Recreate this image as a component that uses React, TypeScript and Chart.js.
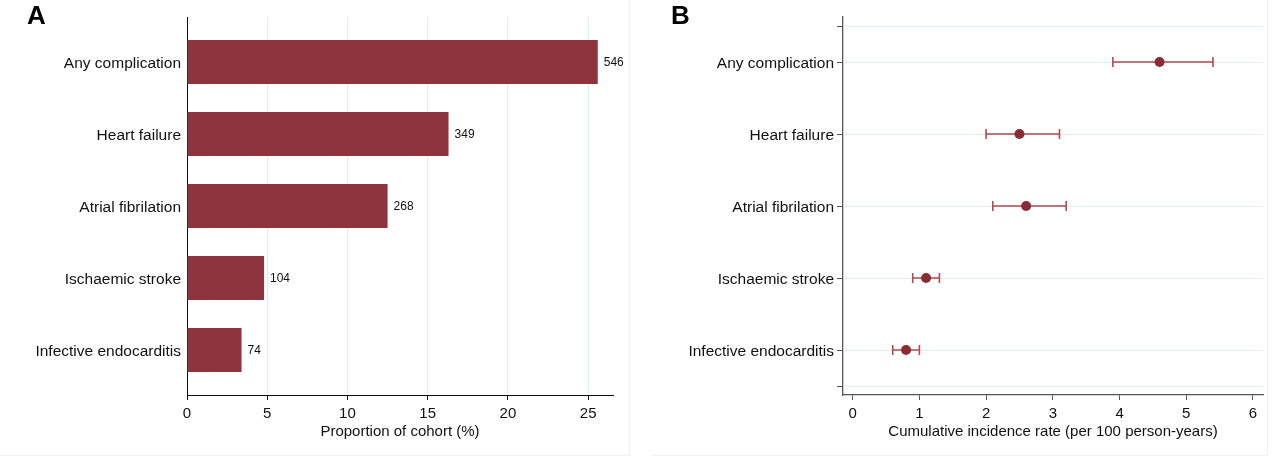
import React, { useEffect, useRef } from "react";
import { Chart, registerables } from "chart.js";

Chart.register(...registerables);

// ---- Data ----
const categories = [
  "Any complication",
  "Heart failure",
  "Atrial fibrilation",
  "Ischaemic stroke",
  "Infective endocarditis",
];
const categoryPositions = [1, 2, 3, 4, 5];
const proportionPct = [25.6, 16.3, 12.5, 4.8, 3.4];
const counts = [546, 349, 268, 104, 74];
const proportionTicks = [0, 5, 10, 15, 20, 25];

const rate = [4.6, 2.5, 2.6, 1.1, 0.8];
const rateLower = [3.9, 2.0, 2.1, 0.9, 0.6];
const rateUpper = [5.4, 3.1, 3.2, 1.3, 1.0];
const rateTicks = [0, 1, 2, 3, 4, 5, 6];
const rateYTicks = [0.5, 1, 2, 3, 4, 5, 5.5];

const FONT = '"Liberation Sans", Arial, Helvetica, sans-serif';
const BAR_COLOR = "#8e343c";
const POINT_COLOR = "#8b2c35";
const CI_COLOR = "#b04a53";
const GRID_COLOR = "#e4eef0";

const barLabelPlugin = {
  id: "barLabels",
  afterDatasetsDraw(chart: any) {
    const { ctx } = chart;
    const meta = chart.getDatasetMeta(0);
    ctx.save();
    ctx.fillStyle = "#111";
    ctx.font = `12px ${FONT}`;
    ctx.textAlign = "left";
    ctx.textBaseline = "middle";
    meta.data.forEach((bar: any, i: number) => {
      ctx.fillText(String(counts[i]), bar.x + 6, bar.y + 1);
    });
    ctx.restore();
  },
};

const errorBarPlugin = {
  id: "errorBars",
  beforeDatasetsDraw(chart: any) {
    const { ctx } = chart;
    const x = chart.scales.x;
    const y = chart.scales.y;
    ctx.save();
    ctx.strokeStyle = CI_COLOR;
    ctx.lineWidth = 1.6;
    categoryPositions.forEach((p, i) => {
      const py = y.getPixelForValue(p);
      const x1 = x.getPixelForValue(rateLower[i]);
      const x2 = x.getPixelForValue(rateUpper[i]);
      ctx.beginPath();
      ctx.moveTo(x1, py);
      ctx.lineTo(x2, py);
      ctx.moveTo(x1, py - 5);
      ctx.lineTo(x1, py + 5);
      ctx.moveTo(x2, py - 5);
      ctx.lineTo(x2, py + 5);
      ctx.stroke();
    });
    ctx.restore();
  },
};

function PanelA() {
  const ref = useRef<HTMLCanvasElement | null>(null);
  useEffect(() => {
    if (!ref.current) return;
    const chart = new Chart(ref.current, {
      type: "bar",
      data: {
        datasets: [
          {
            data: categoryPositions.map((p, i) => ({ x: proportionPct[i], y: p })),
            backgroundColor: BAR_COLOR,
            borderWidth: 0,
            barPercentage: 0.61,
            categoryPercentage: 1,
          } as any,
        ],
      },
      options: {
        indexAxis: "y",
        animation: false,
        responsive: false,
        events: [],
        layout: { padding: { top: 17, right: 27, left: 0, bottom: 0 } },
        plugins: { legend: { display: false }, tooltip: { enabled: false } },
        scales: {
          x: {
            type: "linear",
            position: "bottom",
            min: 0,
            max: 26.55,
            offset: false,
            afterBuildTicks: (s: any) => {
              s.ticks = proportionTicks.map((v) => ({ value: v }));
            },
            afterFit: (s: any) => {
              s.height = 63;
            },
            grid: {
              color: GRID_COLOR,
              drawTicks: true,
              tickLength: 5,
              tickColor: "#111",
            },
            border: { color: "#111", width: 1 },
            ticks: {
              color: "#111",
              font: { family: FONT, size: 15 },
              padding: 5,
              maxRotation: 0,
            },
            title: {
              display: true,
              text: "Proportion of cohort (%)",
              color: "#111",
              font: { family: FONT, size: 15 },
              padding: { top: 0, bottom: 17 },
            },
          },
          y: {
            type: "linear",
            min: 0.375,
            max: 5.625,
            reverse: true,
            offset: false,
            afterBuildTicks: (s: any) => {
              s.ticks = categoryPositions.map((v) => ({ value: v }));
            },
            afterFit: (s: any) => {
              s.width = 187;
            },
            grid: { display: false, drawTicks: false, tickLength: 0 },
            border: { display: true, color: "#111", width: 1 },
            ticks: {
              color: "#111",
              font: { family: FONT, size: 15.5 },
              padding: 6,
              labelOffset: 1.5,
              autoSkip: false,
              callback: (v: any) => categories[Number(v) - 1] ?? "",
            },
          },
        },
      } as any,
      plugins: [barLabelPlugin],
    });
    return () => chart.destroy();
  }, []);
  return <canvas ref={ref} width={640} height={458} style={{ width: 640, height: 458, display: "block" }} />;
}

function PanelB() {
  const ref = useRef<HTMLCanvasElement | null>(null);
  useEffect(() => {
    if (!ref.current) return;
    const chart = new Chart(ref.current, {
      type: "scatter",
      data: {
        datasets: [
          {
            data: categoryPositions.map((p, i) => ({ x: rate[i], y: p })),
            backgroundColor: POINT_COLOR,
            borderColor: POINT_COLOR,
            pointRadius: 5,
            pointBorderWidth: 0,
          },
        ],
      },
      options: {
        animation: false,
        responsive: false,
        events: [],
        layout: { padding: { top: 17, right: 17, left: 0, bottom: 0 } },
        plugins: { legend: { display: false }, tooltip: { enabled: false } },
        scales: {
          x: {
            type: "linear",
            position: "bottom",
            min: -0.145,
            max: 6.15,
            afterBuildTicks: (s: any) => {
              s.ticks = rateTicks.map((v) => ({ value: v }));
            },
            afterFit: (s: any) => {
              s.height = 63;
            },
            grid: {
              drawOnChartArea: false,
              drawTicks: true,
              tickLength: 5,
              tickColor: "#555",
              color: "#555",
            },
            border: { color: "#555", width: 1.3 },
            ticks: {
              color: "#111",
              font: { family: FONT, size: 15 },
              padding: 5,
              maxRotation: 0,
            },
            title: {
              display: true,
              text: "Cumulative incidence rate (per 100 person-years)",
              color: "#111",
              font: { family: FONT, size: 15 },
              padding: { top: 0, bottom: 17 },
            },
          },
          y: {
            type: "linear",
            min: 0.375,
            max: 5.625,
            reverse: true,
            afterBuildTicks: (s: any) => {
              s.ticks = rateYTicks.map((v) => ({ value: v }));
            },
            afterFit: (s: any) => {
              s.width = 203;
            },
            grid: {
              color: GRID_COLOR,
              drawTicks: true,
              tickLength: 6,
              tickColor: "#555",
            },
            border: { color: "#555", width: 1.3 },
            ticks: {
              color: "#111",
              font: { family: FONT, size: 15.5 },
              padding: 3,
              labelOffset: 1.5,
              autoSkip: false,
              callback: (v: any) => {
                const n = Number(v);
                return Number.isInteger(n) ? categories[n - 1] ?? "" : "";
              },
            },
          },
        },
      } as any,
      plugins: [errorBarPlugin],
    });
    return () => chart.destroy();
  }, []);
  return <canvas ref={ref} width={640} height={458} style={{ width: 640, height: 458, display: "block" }} />;
}

export default function App() {
  const letter: React.CSSProperties = {
    position: "absolute",
    fontFamily: FONT,
    fontWeight: 700,
    fontSize: 26,
    lineHeight: "26px",
    color: "#000",
  };
  return (
    <div
      style={{
        position: "fixed",
        left: 0,
        top: 0,
        width: 1280,
        height: 458,
        background: "#fff",
        overflow: "hidden",
      }}
    >
      <div
        style={{
          position: "absolute",
          left: 0,
          top: 0,
          width: 630,
          height: 456,
          borderRight: "1px solid #f1f1f1",
          borderBottom: "1px solid #f1f1f1",
          boxSizing: "border-box",
        }}
      />
      <div
        style={{
          position: "absolute",
          left: 652,
          top: 0,
          width: 616,
          height: 456,
          borderRight: "1px solid #f1f1f1",
          borderBottom: "1px solid #f1f1f1",
          boxSizing: "border-box",
        }}
      />
      <div style={{ position: "absolute", left: 0, top: 0 }}>
        <PanelA />
      </div>
      <div style={{ position: "absolute", left: 640, top: 0 }}>
        <PanelB />
      </div>
      <div style={{ ...letter, left: 27, top: 2 }}>A</div>
      <div style={{ ...letter, left: 671, top: 2 }}>B</div>
    </div>
  );
}
